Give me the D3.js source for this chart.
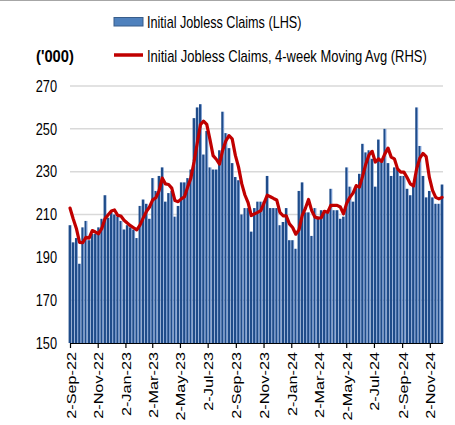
<!DOCTYPE html>
<html>
<head>
<meta charset="utf-8">
<script src="https://cdn.jsdelivr.net/npm/d3@7"></script>
<style>
  html, body { margin: 0; padding: 0; background: #fff; }
  svg { display: block; }
  text { font-family: "Liberation Sans", Arial, sans-serif; fill: #000; }
</style>
</head>
<body>
<svg id="chart" width="455" height="425"></svg>
<script>
// ---- data ----
const startLabel = "2-Sep-22";
const weeklyClaims = [
  205, 197, 199, 187, 204, 207, 198, 201, 201, 204,
  208, 219, 208.5, 211, 210, 209, 207, 203, 205, 204,
  203, 199, 214, 217, 215, 208, 227, 221, 228, 232,
  216, 220, 221, 209, 214, 225, 225, 227, 231, 255,
  260, 261.5, 238, 249, 232, 231, 231, 240, 258, 248,
  241, 234, 227.5, 226, 210, 213, 213, 202, 213, 216,
  216, 216, 228, 213, 213, 213, 205, 206.5, 213, 198,
  198, 194, 221, 225, 211, 211, 200, 213, 209, 212,
  212, 211, 222, 212, 212, 208, 209, 232, 223, 216,
  223, 229, 243, 239, 240, 236, 223, 245, 235, 250,
  234, 228, 232, 231, 228, 228, 222, 219, 224, 260,
  242, 228, 218, 221, 218, 215, 215, 224
];
const movingAvg = [
  213, 208, 203.5, 197, 196.8, 199.3, 199, 202.5, 201.8, 201,
  203.5, 208, 209.9, 211.6, 212.1, 209.6, 209.3, 207.3, 206, 204.8,
  203.8, 202.8, 205, 208.3, 211.3, 213.5, 216.8, 217.8, 221, 227,
  224.3, 224, 222.3, 216.5, 216, 217.3, 218.3, 222.8, 227, 234.5,
  243.3, 251.9, 253.6, 252.1, 245.1, 237.5, 235.8, 233.5, 240, 244.3,
  246.8, 245.3, 237.6, 232.1, 224.4, 219.1, 215.5, 209.5, 210.3, 211,
  211.8, 215.3, 219, 218.3, 217.5, 216.8, 211, 209.4, 209.4, 205.6,
  203.9, 200.8, 202.8, 209.5, 212.8, 217, 211.8, 208.8, 208.3, 208.5,
  211.5, 211, 214.3, 214.3, 214.3, 213.5, 210.3, 215.3, 218, 220,
  223.5, 222.8, 227.8, 233.5, 237.8, 239.5, 234.5, 236, 234.8, 238.3,
  241, 236.8, 236, 231.3, 229.8, 229.8, 227.3, 224.3, 223.3, 231.3,
  236.3, 238.5, 237, 227.3, 221.3, 218, 217.3, 218
];
const tickLabels = [
  "2-Sep-22", "2-Nov-22", "2-Jan-23", "2-Mar-23", "2-May-23", "2-Jul-23", "2-Sep-23",
  "2-Nov-23", "2-Jan-24", "2-Mar-24", "2-May-24", "2-Jul-24", "2-Sep-24", "2-Nov-24"
];
const yTicks = [150, 170, 190, 210, 230, 250, 270];
const legendLabels = ["Initial Jobless Claims (LHS)", "Initial Jobless Claims, 4-week Moving Avg (RHS)"];
const unitLabel = "('000)";

// ---- chart ----
(function () {
const parse = d3.timeParse("%d-%b-%y");
const start = parse(startLabel);
const dates = weeklyClaims.map((_, i) => d3.timeDay.offset(start, 7 * i));
const tickDates = tickLabels.map(parse);

const svg = d3.select("#chart");
const mLeft = 70, mRight = 443, mTop = 86, mBottom = 343;

const x = d3.scaleTime()
  .domain([start, d3.timeDay.offset(start, 821)])
  .range([mLeft, mRight]);
const y = d3.scaleLinear().domain([150, 270]).range([mBottom, mTop]);

const defs = svg.append("defs");
const grad = defs.append("linearGradient").attr("id", "barGrad")
  .attr("x1", "0").attr("x2", "1").attr("y1", "0").attr("y2", "0");
grad.append("stop").attr("offset", "0").attr("stop-color", "#1f4c8a");
grad.append("stop").attr("offset", "0.66").attr("stop-color", "#1f4c8a");
grad.append("stop").attr("offset", "0.67").attr("stop-color", "#7396cc");
grad.append("stop").attr("offset", "1").attr("stop-color", "#7396cc");

// top border
svg.append("line").attr("x1", 0).attr("x2", 455).attr("y1", 0.5).attr("y2", 0.5)
  .attr("stroke", "#a6a6a6").attr("stroke-width", 1);

// gridlines
svg.append("g").selectAll("line").data(yTicks.filter(t => t !== 150)).join("line")
  .attr("x1", mLeft).attr("x2", mRight)
  .attr("y1", d => y(d)).attr("y2", d => y(d))
  .attr("stroke", "#d9d9d9").attr("stroke-width", 1.5);

// y labels
svg.append("g").selectAll("text").data(yTicks).join("text")
  .attr("transform", d => `translate(57,${y(d) + 5.8}) scale(0.8,1)`)
  .attr("text-anchor", "end")
  .style("font-size", "16px")
  .text(d => d);

// bars
svg.append("g").selectAll("rect").data(weeklyClaims).join("rect")
  .attr("x", (d, i) => x(dates[i]) - 1.4)
  .attr("width", 2.9)
  .attr("y", d => y(d))
  .attr("height", d => y(150) - y(d))
  .attr("fill", "url(#barGrad)");

// moving average line
const line = d3.line()
  .x((d, i) => x(dates[i]))
  .y(d => y(d));
svg.append("path").datum(movingAvg)
  .attr("d", line)
  .attr("fill", "none")
  .attr("stroke", "#c00000")
  .attr("stroke-width", 3.2)
  .attr("stroke-linejoin", "round")
  .attr("stroke-linecap", "round");

// x axis
const xAxis = d3.axisBottom(x).tickValues(tickDates).tickSize(5).tickFormat("");
const gx = svg.append("g").attr("transform", `translate(0,${mBottom})`).call(xAxis);
gx.select(".domain").attr("stroke", "#000").attr("stroke-width", 1.2)
  .attr("d", `M${mLeft},0.5H${mRight}`);
gx.selectAll(".tick line").attr("stroke", "#000").attr("stroke-width", 1.2);

svg.append("g").selectAll("text").data(tickLabels).join("text")
  .attr("transform", (d, i) => `translate(${x(tickDates[i]) + 5.5},352) rotate(-90) scale(1.25,1)`)
  .attr("text-anchor", "end")
  .style("font-size", "13px")
  .text(d => d);

// legend
svg.append("rect").attr("x", 114).attr("y", 17.5).attr("width", 29).attr("height", 8.5)
  .attr("fill", "#4f81bd").attr("stroke", "#385d8a").attr("stroke-width", 1);
svg.append("text").attr("transform", "translate(147,28) scale(0.79,1)")
  .style("font-size", "16px").text(legendLabels[0]);
svg.append("line").attr("x1", 114).attr("x2", 143).attr("y1", 55).attr("y2", 55)
  .attr("stroke", "#c00000").attr("stroke-width", 3.5);
svg.append("text").attr("transform", "translate(147,62) scale(0.81,1)")
  .style("font-size", "16px").text(legendLabels[1]);
svg.append("text").attr("transform", "translate(36,62) scale(0.92,1)")
  .style("font-size", "16px").style("font-weight", "bold").text(unitLabel);
})();
</script>
</body>
</html>
